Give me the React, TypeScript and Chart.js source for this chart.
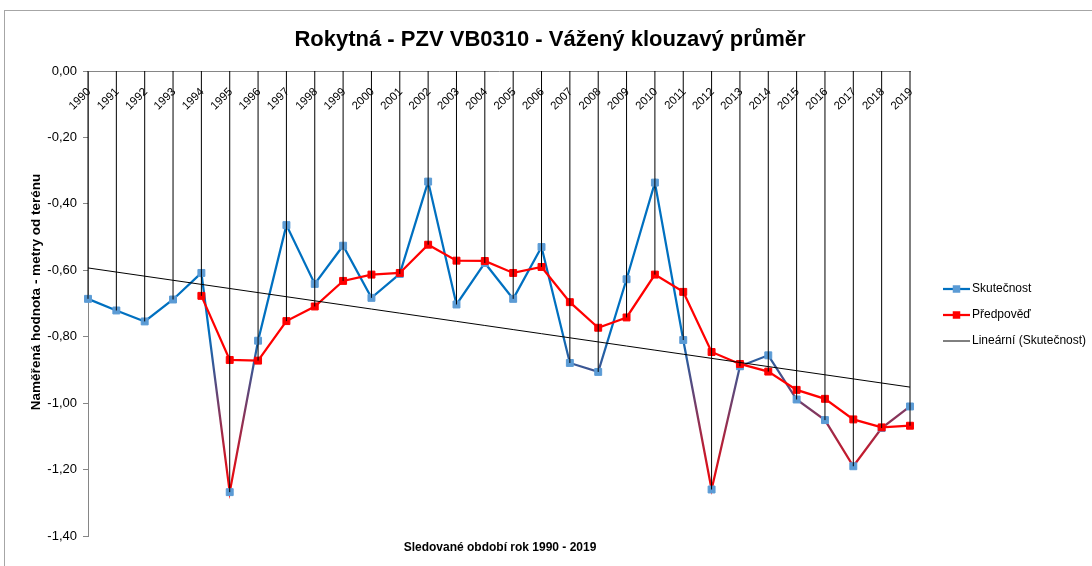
import React, { useEffect, useRef } from 'react';
import { Chart, registerables } from 'chart.js';

Chart.register(...registerables);

// ---------- data ----------
const years: string[] = [
  '1990', '1991', '1992', '1993', '1994', '1995', '1996', '1997', '1998', '1999',
  '2000', '2001', '2002', '2003', '2004', '2005', '2006', '2007', '2008', '2009',
  '2010', '2011', '2012', '2013', '2014', '2015', '2016', '2017', '2018', '2019',
];

const skutecnost: number[] = [
  -0.686, -0.721, -0.754, -0.688, -0.608, -1.268, -0.812, -0.464, -0.641, -0.526,
  -0.683, -0.611, -0.333, -0.703, -0.578, -0.686, -0.530, -0.879, -0.906, -0.627,
  -0.336, -0.810, -1.260, -0.889, -0.856, -0.989, -1.051, -1.190, -1.075, -1.010,
];

const predpoved: (number | null)[] = [
  null, null, null, null, -0.677, -0.870, -0.872, -0.753, -0.709, -0.632,
  -0.613, -0.608, -0.523, -0.571, -0.572, -0.608, -0.590, -0.696, -0.773, -0.742,
  -0.613, -0.665, -0.846, -0.882, -0.905, -0.960, -0.987, -1.049, -1.073, -1.068,
];

const yMin = -1.4;
const yMax = 0;
const yStep = 0.2;

const chartTitle = 'Rokytná - PZV VB0310 - Vážený klouzavý průměr';
const yAxisTitle = 'Naměřená hodnota - metry od terénu';
const xAxisTitle = 'Sledované období rok 1990 - 2019';
const legendLabels: string[] = ['Skutečnost', 'Předpověď', 'Lineární (Skutečnost)'];

// linear trend (least squares) of the measured series
function linearTrend(vals: number[]): number[] {
  const n = vals.length;
  const mx = (n - 1) / 2;
  const my = vals.reduce((a, b) => a + b, 0) / n;
  let sxy = 0;
  let sxx = 0;
  vals.forEach((v, i) => {
    sxy += (i - mx) * (v - my);
    sxx += (i - mx) * (i - mx);
  });
  const slope = sxy / sxx;
  return vals.map((_, i) => my + slope * (i - mx));
}
const trend = linearTrend(skutecnost);

// ---------- styles ----------
const FONT = '"Liberation Sans", Arial, sans-serif';
const BLUE_LINE = '#0070C0';
const BLUE_MARK = '#5B9BD5';
const RED = '#FF0000';
const AXIS = '#868686';
const GRAD_TOP = -0.78;
const GRAD_BOTTOM = -1.27;

function fmt(v: number): string {
  const x = Math.abs(v) < 1e-9 ? 0 : v;
  return x.toFixed(2).replace('.', ',');
}

const decorPlugin = {
  id: 'decor',
  beforeDraw(chart: any) {
    const ctx = chart.ctx;
    ctx.save();
    ctx.fillStyle = '#ffffff';
    ctx.fillRect(0, 0, chart.width, chart.height);
    ctx.strokeStyle = '#a6a6a6';
    ctx.lineWidth = 1;
    ctx.strokeRect(4.5, 10.5, 3000, 3000);
    ctx.restore();
  },
  afterDatasetsDraw(chart: any) {
    const ctx = chart.ctx;
    const xs = chart.scales.x;
    const ys = chart.scales.y;
    const top = chart.chartArea.top;
    ctx.save();
    ctx.strokeStyle = '#000000';
    ctx.lineWidth = 1;
    years.forEach((_, i) => {
      const b = skutecnost[i];
      const r = predpoved[i];
      const low = r === null ? b : Math.min(b, r);
      const x = xs.getPixelForValue(i);
      ctx.beginPath();
      ctx.moveTo(x, top);
      ctx.lineTo(x, ys.getPixelForValue(low));
      ctx.stroke();
    });
    ctx.restore();
  },
  afterDraw(chart: any) {
    const ctx = chart.ctx;
    const xs = chart.scales.x;
    const area = chart.chartArea;
    ctx.save();
    // category labels, rotated, under the top axis
    ctx.fillStyle = '#000000';
    ctx.font = `11.5px ${FONT}`;
    ctx.textAlign = 'right';
    ctx.textBaseline = 'middle';
    years.forEach((y, i) => {
      const x = xs.getPixelForValue(i);
      ctx.save();
      ctx.translate(x + 1, area.top + 19);
      ctx.rotate(-Math.PI / 4);
      ctx.fillText(y, 0, 0);
      ctx.restore();
    });
    // chart title
    ctx.font = `bold 22px ${FONT}`;
    ctx.textAlign = 'center';
    ctx.fillText(chartTitle, 550, 40);
    // y axis title
    ctx.save();
    ctx.font = `bold 13.5px ${FONT}`;
    ctx.translate(36, 292);
    ctx.rotate(-Math.PI / 2);
    ctx.fillText(yAxisTitle, 0, 0);
    ctx.restore();
    // x axis title
    ctx.font = `bold 12px ${FONT}`;
    ctx.fillText(xAxisTitle, 500, 548);
    // legend
    const lx0 = 943;
    const lx1 = 970;
    const ly = [289, 315, 341];
    ctx.font = `12px ${FONT}`;
    ctx.textAlign = 'left';
    const lineCols = [BLUE_LINE, RED, '#000000'];
    const markCols = [BLUE_MARK, RED, null];
    const widths = [2.25, 2.25, 1];
    legendLabels.forEach((lab, i) => {
      ctx.strokeStyle = lineCols[i];
      ctx.lineWidth = widths[i];
      ctx.beginPath();
      ctx.moveTo(lx0, ly[i]);
      ctx.lineTo(lx1, ly[i]);
      ctx.stroke();
      const mc = markCols[i];
      if (mc) {
        ctx.fillStyle = mc;
        ctx.fillRect((lx0 + lx1) / 2 - 3.75, ly[i] - 3.75, 7.5, 7.5);
      }
      ctx.fillStyle = '#000000';
      ctx.fillText(lab, 972, ly[i]);
    });
    ctx.restore();
  },
};

export default function App() {
  const canvasRef = useRef<HTMLCanvasElement | null>(null);

  useEffect(() => {
    const canvas = canvasRef.current;
    if (!canvas) return;
    const chart = new Chart(canvas, {
      type: 'line',
      data: {
        labels: years,
        datasets: [
          {
            label: legendLabels[2],
            data: trend,
            borderColor: '#000000',
            borderWidth: 1,
            pointRadius: 0,
            fill: false,
            order: 0,
          },
          {
            label: legendLabels[1],
            data: predpoved,
            borderColor: RED,
            borderWidth: 2.25,
            pointStyle: 'rect',
            pointRadius: 4.9,
            pointBorderWidth: 1,
            pointBackgroundColor: RED,
            pointBorderColor: RED,
            fill: false,
            tension: 0,
            order: 1,
          },
          {
            label: legendLabels[0],
            data: skutecnost,
            borderColor: (c: any) => {
              const ch = c.chart;
              const ca = ch.chartArea;
              if (!ca) return BLUE_LINE;
              const y0 = ch.scales.y.getPixelForValue(GRAD_TOP);
              const y1 = ch.scales.y.getPixelForValue(GRAD_BOTTOM);
              const g = ch.ctx.createLinearGradient(0, y0, 0, y1);
              g.addColorStop(0, BLUE_LINE);
              g.addColorStop(1, RED);
              return g;
            },
            borderWidth: 2.25,
            pointStyle: 'rect',
            pointRadius: 4.9,
            pointBorderWidth: 1,
            pointBackgroundColor: BLUE_MARK,
            pointBorderColor: BLUE_MARK,
            fill: false,
            tension: 0,
            order: 2,
          },
        ],
      },
      options: {
        animation: false,
        responsive: false,
        devicePixelRatio: 1,
        events: [],
        layout: { padding: { left: 0, top: 71, right: 182, bottom: 30 } },
        plugins: {
          legend: { display: false },
          title: { display: false },
          tooltip: { enabled: false },
        },
        scales: {
          x: {
            type: 'category',
            position: 'top',
            offset: false,
            ticks: { display: false },
            grid: { display: false, drawTicks: false },
            border: { display: true, color: AXIS, width: 1 },
            afterFit: (s: any) => {
              s.height = 0;
            },
          },
          y: {
            type: 'linear',
            min: yMin,
            max: yMax,
            ticks: {
              stepSize: yStep,
              callback: (v: any) => fmt(Number(v)),
              font: { family: FONT, size: 13 },
              color: '#000000',
              padding: 6,
            },
            grid: { drawOnChartArea: false, drawTicks: true, tickLength: 5, color: AXIS },
            border: { display: true, color: AXIS, width: 1 },
            afterFit: (s: any) => {
              s.width = 88;
            },
          },
        },
      },
      plugins: [decorPlugin],
    });
    return () => chart.destroy();
  }, []);

  return (
    <div style={{ position: 'absolute', left: 0, top: 0, width: 1092, height: 566, overflow: 'hidden' }}>
      <canvas ref={canvasRef} width={1092} height={566} style={{ display: 'block' }} />
    </div>
  );
}
